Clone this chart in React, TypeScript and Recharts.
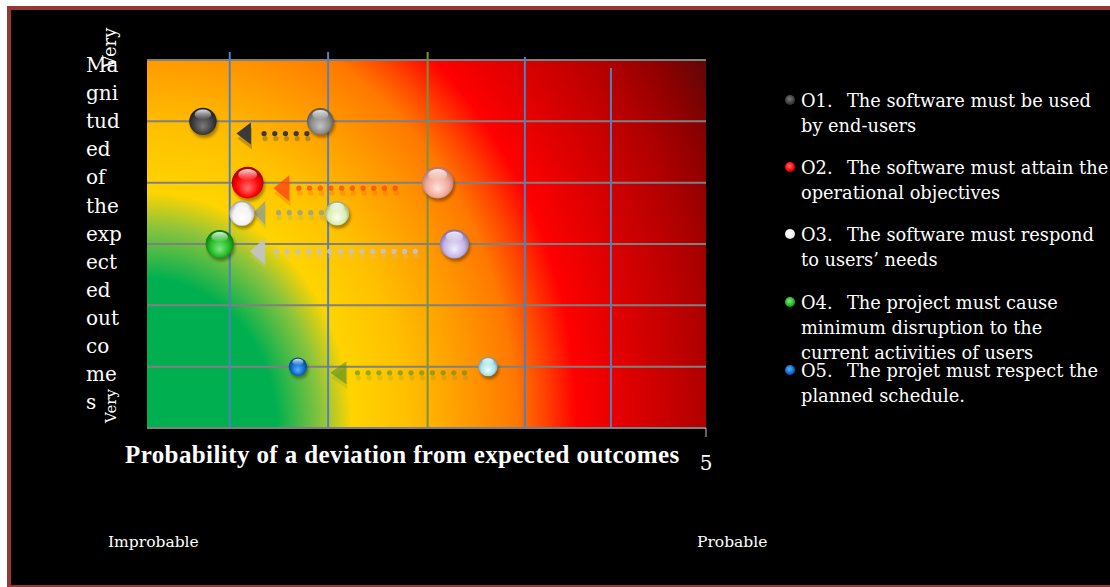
import { ScatterChart, Scatter, XAxis, YAxis, CartesianGrid, ReferenceLine } from 'recharts';

// objectives shown on the risk map
const objectives = ['O1', 'O2', 'O3', 'O4', 'O5'];
const objectiveLabels = [
  ['The software must be used', 'by end-users'],
  ['The software must attain the', 'operational objectives'],
  ['The software must respond', 'to users\u2019 needs'],
  ['The project must cause', 'minimum disruption to the', 'current activities of users'],
  ['The projet must respect the', 'planned schedule.'],
];

// x = probability of a deviation, y = magnitude of the expected outcomes
const probabilityNow = [0.5, 0.9, 0.85, 0.65, 1.35];
const probabilityBefore = [1.55, 2.6, 1.7, 2.75, 3.05];
const magnitude = [5, 4, 3.5, 3, 1];

// dotted arrows (from the old position towards the new one)
const arrowFrom = [1.43, 2.22, 1.56, 2.4, 2.84];
const arrowTo = [0.8, 1.13, 0.95, 0.92, 1.64];
const arrowLevel = [4.8, 3.91, 3.51, 2.88, 0.9];

// column separators drawn over the map
const dividerX = [0.74, 1.62, 2.51, 3.38, 4.15];
const dividerTop = [6.13, 6.13, 6.13, 6.05, 5.87];

const magnitudeTicks = [0, 1, 2, 3, 4, 5, 6];
const probabilityTicks = [5];
const yTitleLines = ['Ma', 'gni', 'tud', 'ed', 'of', 'the', 'exp', 'ect', 'ed', 'out', 'co', 'me', 's'];

// styles
type BallStyle = { light: string; base: string; dark: string; r: number };
const ballNow: BallStyle[] = [
  { light: '#7a7a7a', base: '#3e3e3e', dark: '#1c1c1c', r: 13.7 },
  { light: '#ff7070', base: '#ff0000', dark: '#a00000', r: 15.8 },
  { light: '#ffffff', base: '#f2f2f2', dark: '#a0a0a0', r: 12.5 },
  { light: '#80e880', base: '#22b822', dark: '#0a700a', r: 14 },
  { light: '#5ab0f5', base: '#0a68cc', dark: '#043c80', r: 9.2 },
];
const ballBefore: BallStyle[] = [
  { light: '#c4c4c4', base: '#8a8a8a', dark: '#505050', r: 13.3 },
  { light: '#ffe4dc', base: '#f0a898', dark: '#b87068', r: 15.8 },
  { light: '#fbfff0', base: '#dcedb4', dark: '#92a870', r: 12.2 },
  { light: '#f2ecff', base: '#c4b4e4', dark: '#7a6aa4', r: 14.5 },
  { light: '#f0ffff', base: '#a6e2ee', dark: '#5a9ab2', r: 9.7 },
];
const arrowStyle = [
  { color: '#3a3a3a', opacity: 1, w: 14.5, h: 22 },
  { color: '#ff4a12', opacity: 0.8, w: 16, h: 26 },
  { color: '#8e9c92', opacity: 0.75, w: 12, h: 24 },
  { color: '#c4c4c4', opacity: 0.95, w: 15, h: 26 },
  { color: '#4c8a2a', opacity: 0.55, w: 16, h: 23 },
];
const dividerColor = ['#4f81bd', '#4f81bd', '#77933c', '#4f81bd', '#4f81bd'];
const legendTop = [100, 167, 234, 302, 370];

// heat map colours, by distance (px) from the bottom-left corner of the plot
const heatStops: [number, string][] = [
  [0, '#00b050'], [130, '#00b050'], [175, '#8cc43c'], [205, '#ffd400'], [260, '#ffc000'],
  [320, '#ff9a00'], [370, '#ff7800'], [400, '#ff4000'], [430, '#ff0000'], [480, '#e00000'],
  [560, '#b00000'], [600, '#900000'], [650, '#580808'],
];

const serif = '"DejaVu Serif", serif';

const nowData = objectives.map((id, i) => ({ id, i, x: probabilityNow[i], y: magnitude[i] }));
const beforeData = objectives.map((id, i) => ({ id, i, x: probabilityBefore[i], y: magnitude[i] }));

function renderBall(cx: number, cy: number, s: BallStyle, gid: string) {
  const r = s.r;
  return (
    <g>
      <circle cx={cx + 1.5} cy={cy + 3} r={r} fill="#000" opacity={0.35} filter="url(#soft)" />
      <circle cx={cx} cy={cy} r={r} fill={`url(#${gid})`} />
      <ellipse cx={cx} cy={cy - r * 0.5} rx={r * 0.6} ry={r * 0.36} fill="url(#shine)" />
    </g>
  );
}

const arrowShape = (k: number) => (p: any) => {
  const { x1, y1, x2 } = p;
  const st = arrowStyle[k];
  const base = x2 + st.w;
  const tri = `M${x2},${y1} L${base},${y1 - st.h / 2} L${base},${y1 + st.h / 2} Z`;
  const body = (dx: number, dy: number, op: number) => (
    <g transform={`translate(${dx},${dy})`} opacity={op}>
      <line x1={x1} y1={y1} x2={base + 4} y2={y1} stroke={st.color} strokeWidth={5.3}
        strokeLinecap="round" strokeDasharray="0 10.7" />
      <path d={tri} fill={st.color} />
    </g>
  );
  return (
    <g>
      {body(1, 5, st.opacity * 0.3)}
      {body(0, 0, st.opacity)}
    </g>
  );
};

function RiskMap() {
  const R = heatStops[heatStops.length - 1][0];
  return (
    <ScatterChart width={1110} height={587} margin={{ top: 60, right: 404, bottom: 119, left: 147 }}>
      <defs>
        <radialGradient id="heat" gradientUnits="userSpaceOnUse" cx={147} cy={428} r={R}
          gradientTransform="translate(147,428) scale(1,1.15) translate(-147,-428)">
          {heatStops.map(([d, c]) => (
            <stop key={d} offset={d / R} stopColor={c} />
          ))}
        </radialGradient>
        <linearGradient id="shine" x1="0" y1="0" x2="0" y2="1">
          <stop offset="0" stopColor="#fff" stopOpacity={0.85} />
          <stop offset="1" stopColor="#fff" stopOpacity={0} />
        </linearGradient>
        <filter id="soft" x="-50%" y="-50%" width="200%" height="200%">
          <feGaussianBlur stdDeviation="1.5" />
        </filter>
        {[...ballNow.map((s, i) => ({ s, id: `now-${i}` })), ...ballBefore.map((s, i) => ({ s, id: `before-${i}` }))].map(({ s, id }) => (
          <radialGradient key={id} id={id} cx="50%" cy="55%" r="55%" fx="50%" fy="70%">
            <stop offset="0" stopColor={s.light} />
            <stop offset="0.65" stopColor={s.base} />
            <stop offset="1" stopColor={s.dark} />
          </radialGradient>
        ))}
      </defs>
      <CartesianGrid vertical={false} stroke="#808080" strokeWidth={2} fill="url(#heat)" fillOpacity={1} />
      <XAxis type="number" dataKey="x" domain={[0, 5]} ticks={probabilityTicks} height={40}
        axisLine={{ stroke: '#808080', strokeWidth: 2 }} tickLine={{ stroke: '#bfbfbf' }} tickSize={9} tickMargin={19}
        tick={{ fill: '#ffffff', fontSize: 20, fontFamily: serif }} />
      <YAxis type="number" dataKey="y" domain={[0, 6]} ticks={magnitudeTicks} hide />
      {dividerX.map((x, i) => (
        <ReferenceLine key={`d${i}`} segment={[{ x, y: dividerTop[i] }, { x, y: 0 }]} ifOverflow="visible"
          stroke={dividerColor[i]} strokeWidth={2} />
      ))}
      {objectives.map((o, i) => (
        <ReferenceLine key={`a${o}`} segment={[{ x: arrowFrom[i], y: arrowLevel[i] }, { x: arrowTo[i], y: arrowLevel[i] }]}
          ifOverflow="visible" shape={arrowShape(i)} />
      ))}
      <Scatter data={beforeData} isAnimationActive={false}
        shape={(p: any) => renderBall(p.cx, p.cy, ballBefore[p.payload.i], `before-${p.payload.i}`)} />
      <Scatter data={nowData} isAnimationActive={false}
        shape={(p: any) => renderBall(p.cx, p.cy, ballNow[p.payload.i], `now-${p.payload.i}`)} />
    </ScatterChart>
  );
}

export default function App() {
  const abs = (left: number, top: number): React.CSSProperties => ({ position: 'absolute', left, top });
  return (
    <div style={{ position: 'fixed', left: 0, top: 0, width: 1110, height: 587, overflow: 'hidden', background: '#fff' }}>
      <div style={{ position: 'absolute', left: 7, top: 6, width: 1120, height: 575, border: '4px solid #953735', background: '#000' }} />
      <div style={abs(0, 0)}>
        <RiskMap />
      </div>
      {yTitleLines.map((t, i) => (
        <div key={i} style={{ ...abs(86, 65 + i * 28.1 - 14), height: 28, lineHeight: '28px', fontSize: 20, color: '#fff', fontFamily: serif }}>{t}</div>
      ))}
      <div style={{ ...abs(110 - 30, 48 - 12), width: 60, height: 24, lineHeight: '24px', textAlign: 'center', fontSize: 18, color: '#fff', fontFamily: serif, transform: 'rotate(-90deg)' }}>Very</div>
      <div style={{ ...abs(111 - 30, 406 - 10), width: 60, height: 20, lineHeight: '20px', textAlign: 'center', fontSize: 15, color: '#fff', fontFamily: serif, transform: 'rotate(-90deg)' }}>Very</div>
      <div style={{ ...abs(125, 455 - 15), height: 30, lineHeight: '30px', fontSize: 25, letterSpacing: 0.4, fontWeight: 'bold', color: '#fff', fontFamily: '"Liberation Serif", serif', whiteSpace: 'nowrap' }}>
        Probability of a deviation from expected outcomes
      </div>
      <div style={{ ...abs(108, 542 - 11), lineHeight: '22px', fontSize: 15.5, color: '#fff', fontFamily: serif }}>Improbable</div>
      <div style={{ ...abs(697, 542 - 11), lineHeight: '22px', fontSize: 15.5, color: '#fff', fontFamily: serif }}>Probable</div>
      {objectives.map((o, i) => {
        const s = ballNow[i];
        return (
          <div key={o} style={{ ...abs(801, legendTop[i] - 12.5), width: 320, fontSize: 17.8, lineHeight: '25px', color: '#fff', fontFamily: serif, whiteSpace: 'nowrap' }}>
            <span style={{ position: 'absolute', left: -16, top: 7.5, width: 10, height: 10, borderRadius: 5,
              background: `radial-gradient(circle at 45% 40%, ${s.light}, ${s.base} 55%, ${s.dark})` }} />
            {objectiveLabels[i].map((line, j) => (
              <div key={j}>
                {j === 0 ? <span style={{ display: 'inline-block', width: 46 }}>{o}.</span> : null}
                {line}
              </div>
            ))}
          </div>
        );
      })}
    </div>
  );
}
